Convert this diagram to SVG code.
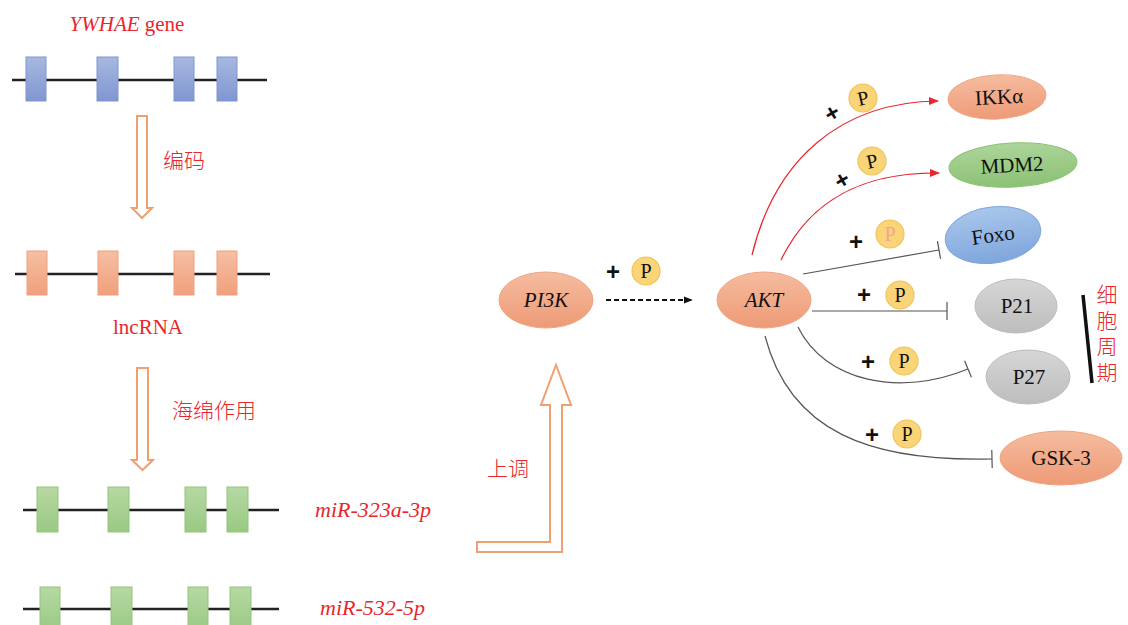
<svg xmlns="http://www.w3.org/2000/svg" width="1128" height="625" viewBox="0 0 1128 625">
  <defs>
    <linearGradient id="gBlue" x1="0" y1="0" x2="0" y2="1">
      <stop offset="0" stop-color="#a7b8e0"/>
      <stop offset="1" stop-color="#8096d2"/>
    </linearGradient>
    <linearGradient id="gOrange" x1="0" y1="0" x2="0" y2="1">
      <stop offset="0" stop-color="#f6bfa3"/>
      <stop offset="1" stop-color="#f0a07c"/>
    </linearGradient>
    <linearGradient id="gGreen" x1="0" y1="0" x2="0" y2="1">
      <stop offset="0" stop-color="#b6d9a2"/>
      <stop offset="1" stop-color="#99c983"/>
    </linearGradient>
    <linearGradient id="gSalmon" x1="0" y1="0" x2="0" y2="1">
      <stop offset="0" stop-color="#f5bc9f"/>
      <stop offset="1" stop-color="#ee9a76"/>
    </linearGradient>
    <linearGradient id="gMdm" x1="0" y1="0" x2="0" y2="1">
      <stop offset="0" stop-color="#acd59a"/>
      <stop offset="1" stop-color="#8cc175"/>
    </linearGradient>
    <linearGradient id="gFoxo" x1="0" y1="0" x2="0" y2="1">
      <stop offset="0" stop-color="#a9c6ec"/>
      <stop offset="1" stop-color="#7ea6dc"/>
    </linearGradient>
    <linearGradient id="gGray" x1="0" y1="0" x2="0" y2="1">
      <stop offset="0" stop-color="#d6d6d6"/>
      <stop offset="1" stop-color="#bdbdbd"/>
    </linearGradient>
    <marker id="redHead" viewBox="0 0 10 10" refX="9" refY="5" markerWidth="10" markerHeight="10" markerUnits="userSpaceOnUse" orient="auto">
      <path d="M0,1 L10,5 L0,9 z" fill="#e8262c"/>
    </marker>
    <marker id="blackHead" viewBox="0 0 10 10" refX="9" refY="5" markerWidth="9" markerHeight="9" markerUnits="userSpaceOnUse" orient="auto">
      <path d="M0,1 L10,5 L0,9 z" fill="#111"/>
    </marker>
    <marker id="tBar" viewBox="0 0 4 20" refX="2" refY="10" markerWidth="4" markerHeight="20" markerUnits="userSpaceOnUse" orient="auto">
      <line x1="2" y1="1" x2="2" y2="19" stroke="#555" stroke-width="1.2"/>
    </marker>
  </defs>
  <style>
    .axis { stroke: #222; stroke-width: 2.5; }
    .exB { fill: url(#gBlue); stroke: #7f95cf; stroke-width: 1; }
    .exO { fill: url(#gOrange); stroke: #f0a07c; stroke-width: 1; }
    .exG { fill: url(#gGreen); stroke: #93c47d; stroke-width: 1; }
    .red { fill: #e8262c; font-family: "Liberation Serif", "Noto Sans CJK SC", serif; }
    .cjk { fill: #e8262c; font-family: "Noto Sans CJK SC", sans-serif; font-size: 21px; font-weight: 300; }
    .vert { writing-mode: vertical-rl; letter-spacing: 5px; }
    .hollow { fill: #fff; stroke: #f0a070; stroke-width: 2; }
    .lbl { font-family: "Liberation Serif", serif; font-size: 21px; fill: #111; text-anchor: middle; }
    .plus { font-family: "Liberation Sans", sans-serif; font-size: 24px; font-weight: bold; fill: #111; text-anchor: middle; }
    .pc { fill: #f9d577; stroke: #f2c25c; stroke-width: 1.2; }
    .pt { font-family: "Liberation Serif", serif; font-size: 20px; fill: #111; text-anchor: middle; }
    .act { fill: none; stroke: #e8262c; stroke-width: 1.2; }
    .inh { fill: none; stroke: #555; stroke-width: 1.2; }
  </style>

  <!-- gene structures -->
  <g id="gene-ywhae">
    <line class="axis" x1="12" y1="80" x2="267" y2="80"/>
    <rect class="exB" x="26" y="57" width="20" height="44"/>
    <rect class="exB" x="97" y="57" width="21" height="44"/>
    <rect class="exB" x="174" y="57" width="20" height="44"/>
    <rect class="exB" x="217" y="57" width="20" height="44"/>
    <text class="red" x="127" y="31" font-size="21" text-anchor="middle"><tspan font-style="italic">YWHAE</tspan> gene</text>
  </g>

  <g id="lncrna">
    <line class="axis" x1="15" y1="274" x2="270" y2="274"/>
    <rect class="exO" x="27" y="251" width="20" height="44"/>
    <rect class="exO" x="98" y="251" width="20" height="44"/>
    <rect class="exO" x="174" y="251" width="20" height="44"/>
    <rect class="exO" x="217" y="251" width="20" height="44"/>
    <text class="red" x="148" y="334" font-size="21" text-anchor="middle">lncRNA</text>
  </g>

  <g id="mir-323a">
    <line class="axis" x1="23" y1="510" x2="279" y2="510"/>
    <rect class="exG" x="37" y="487" width="21" height="45"/>
    <rect class="exG" x="108" y="487" width="21" height="45"/>
    <rect class="exG" x="185" y="487" width="21" height="45"/>
    <rect class="exG" x="227" y="487" width="21" height="45"/>
    <text class="red" x="315" y="517" font-size="22" font-style="italic">miR-323a-3p</text>
  </g>

  <g id="mir-532">
    <line class="axis" x1="23" y1="609" x2="279" y2="609"/>
    <rect class="exG" x="40" y="587" width="20" height="45"/>
    <rect class="exG" x="111" y="587" width="21" height="45"/>
    <rect class="exG" x="188" y="587" width="20" height="45"/>
    <rect class="exG" x="230" y="587" width="21" height="45"/>
    <text class="red" x="320" y="615" font-size="22" font-style="italic">miR-532-5p</text>
  </g>

  <!-- hollow process arrows -->
  <g id="arrow-encode">
    <path class="hollow" d="M137,116 H147 V208 H152 L142,218 L132,208 H137 Z"/>
    <text class="cjk" x="163" y="168">编码</text>
  </g>
  <g id="arrow-sponge">
    <path class="hollow" d="M137,368 H148 V460 H153 L142.5,470 L132,460 H137 Z"/>
    <text class="cjk" x="172" y="418" font-size="22">海绵作用</text>
  </g>
  <g id="arrow-upregulate">
    <path class="hollow" d="M477,542 H550 V405 H541 L556,365 L571,405 H562 V552 H477 Z"/>
    <text class="cjk" x="487" y="476">上调</text>
  </g>

  <!-- signalling nodes -->
  <g id="node-pi3k">
    <ellipse cx="546" cy="300" rx="47" ry="28" fill="url(#gSalmon)" stroke="#f0a582" stroke-width="1"/>
    <text class="lbl" x="546" y="307" font-style="italic">PI3K</text>
  </g>
  <g id="node-akt">
    <ellipse cx="764" cy="300" rx="47" ry="28" fill="url(#gSalmon)" stroke="#f0a582" stroke-width="1"/>
    <text class="lbl" x="764" y="307" font-style="italic">AKT</text>
  </g>
  <g id="node-ikka">
    <ellipse cx="997" cy="97" rx="49" ry="22" fill="url(#gSalmon)" stroke="#f0a582" stroke-width="1" transform="rotate(-3 997 97)"/>
    <text class="lbl" x="999" y="104" transform="rotate(-3 997 97)">IKKα</text>
  </g>
  <g id="node-mdm2">
    <ellipse cx="1013" cy="165" rx="64" ry="22" fill="url(#gMdm)" stroke="#8cc175" stroke-width="1" transform="rotate(-3 1013 165)"/>
    <text class="lbl" x="1012" y="172" transform="rotate(-3 1013 165)">MDM2</text>
  </g>
  <g id="node-foxo">
    <ellipse cx="993" cy="235" rx="48" ry="28" fill="url(#gFoxo)" stroke="#7ea6dc" stroke-width="1" transform="rotate(-8 993 235)"/>
    <text class="lbl" x="993" y="242" transform="rotate(-8 993 235)">Foxo</text>
  </g>
  <g id="node-p21">
    <ellipse cx="1016" cy="306" rx="41" ry="27" fill="url(#gGray)" stroke="#bdbdbd" stroke-width="1"/>
    <text class="lbl" x="1017" y="313">P21</text>
  </g>
  <g id="node-p27">
    <ellipse cx="1028" cy="377" rx="42" ry="27" fill="url(#gGray)" stroke="#bdbdbd" stroke-width="1"/>
    <text class="lbl" x="1029" y="384">P27</text>
  </g>
  <g id="node-gsk3">
    <ellipse cx="1061" cy="458" rx="61" ry="27" fill="url(#gSalmon)" stroke="#f0a582" stroke-width="1"/>
    <text class="lbl" x="1061" y="465">GSK-3</text>
  </g>

  <!-- cell-cycle bracket -->
  <g id="cell-cycle">
    <line x1="1083" y1="295" x2="1092" y2="383" stroke="#111" stroke-width="3.5"/>
    <text class="cjk vert" x="1107" y="284" font-size="22">细胞周期</text>
  </g>

  <!-- connectors -->
  <g id="connectors">
    <line x1="606" y1="300" x2="692" y2="300" stroke="#111" stroke-width="1.8" stroke-dasharray="5,3" marker-end="url(#blackHead)"/>
    <path class="act" d="M752,255 C775,160 840,102 938,101" marker-end="url(#redHead)"/>
    <path class="act" d="M781,260 C805,210 850,172 939,173" marker-end="url(#redHead)"/>
    <path class="inh" d="M803,274 L939,250" marker-end="url(#tBar)"/>
    <path class="inh" d="M812,311 L947,311" marker-end="url(#tBar)"/>
    <path class="inh" d="M798,327 C825,382 900,397 968,369" marker-end="url(#tBar)"/>
    <path class="inh" d="M765,336 C790,432 870,462 992,459" marker-end="url(#tBar)"/>
  </g>

  <!-- phosphorylation labels -->
  <g id="phospho-pi3k">
    <text class="plus" x="613" y="280">+</text>
    <circle class="pc" cx="646" cy="271" r="14"/>
    <text class="pt" x="646" y="278">P</text>
  </g>
  <g id="phospho-ikka">
    <text class="plus" x="832" y="121" transform="rotate(-30 832 113)">+</text>
    <circle class="pc" cx="863" cy="98" r="14"/>
    <text class="pt" x="863" y="105" transform="rotate(-12 863 98)">P</text>
  </g>
  <g id="phospho-mdm2">
    <text class="plus" x="842" y="188" transform="rotate(-30 842 180)">+</text>
    <circle class="pc" cx="872" cy="161" r="14"/>
    <text class="pt" x="872" y="168" transform="rotate(-12 872 161)">P</text>
  </g>
  <g id="phospho-foxo">
    <text class="plus" x="856" y="250">+</text>
    <circle class="pc" cx="890" cy="234" r="14"/>
    <text class="pt" x="890" y="241" style="fill:#f2a49a">P</text>
  </g>
  <g id="phospho-p21">
    <text class="plus" x="864" y="303">+</text>
    <circle class="pc" cx="900" cy="295" r="14"/>
    <text class="pt" x="900" y="302">P</text>
  </g>
  <g id="phospho-p27">
    <text class="plus" x="868" y="370">+</text>
    <circle class="pc" cx="904" cy="361" r="14"/>
    <text class="pt" x="904" y="368">P</text>
  </g>
  <g id="phospho-gsk3">
    <text class="plus" x="872" y="443">+</text>
    <circle class="pc" cx="907" cy="434" r="14"/>
    <text class="pt" x="907" y="441">P</text>
  </g>
</svg>
